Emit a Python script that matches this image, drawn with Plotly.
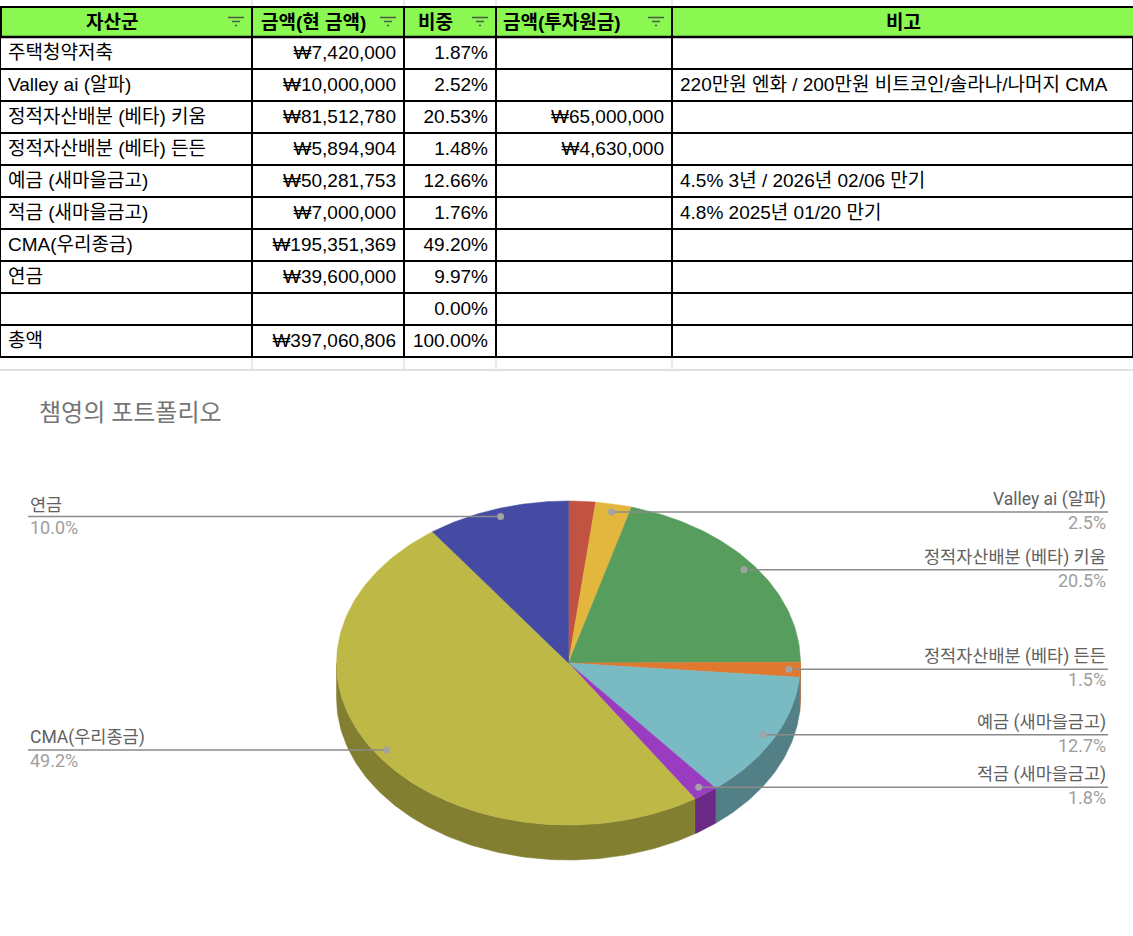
import math
import plotly.graph_objects as go

# ---------------- data ----------------
header_labels = ["자산군", "금액(현 금액)", "비중", "금액(투자원금)", "비고"]
categories = ["주택청약저축", "Valley ai (알파)", "정적자산배분 (베타) 키움", "정적자산배분 (베타) 든든",
              "예금 (새마을금고)", "적금 (새마을금고)", "CMA(우리종금)", "연금"]
current_amounts = [7420000, 10000000, 81512780, 5894904, 50281753, 7000000, 195351369, 39600000]
principal_amounts = [None, None, 65000000, 4630000, None, None, None, None]
notes = ["", "220만원 엔화 / 200만원 비트코인/솔라나/나머지 CMA", "", "",
         "4.5% 3년 / 2026년 02/06 만기", "4.8% 2025년 01/20 만기", "", ""]
total_label = "총액"
chart_title = "챔영의 포트폴리오"
unlabeled = ["주택청약저축"]
slice_colors = ["#C25241", "#E3B63E", "#569D5E", "#E07830", "#79BAC3", "#9A3CC0", "#BEB946", "#454BA3"]

# ---------------- layout constants ----------------
W, H = 1133, 936
col_widths = [252, 152, 92, 176, 461]
header_centers = [112, 313, 435, 562, 903]
table_top, header_h, row_h = 7, 30, 32
plotly_header_h = 36          # height of the (blank) table header row, covered by the drawn header
cx, cy, rx, ry, depth = 568.5, 663, 232, 162, 35
label_left_x, label_right_x = 28, 1108
TABLE_FONT = "Arial, 'Liberation Sans', 'Noto Sans CJK KR', sans-serif"
CHART_FONT = "Roboto, 'Noto Sans CJK KR', sans-serif"
CLEAR = "rgba(0,0,0,0)"

total = sum(current_amounts)

def won(v):
    return "" if v is None else "₩{:,}".format(v)

# table columns
col_names = categories + ["", total_label]
col_amount = [won(v) for v in current_amounts] + ["", won(total)]
col_share = ["{:.2f}%".format(v / total * 100) for v in current_amounts] + ["0.00%", "100.00%"]
col_principal = [won(v) for v in principal_amounts] + ["", ""]
col_notes = notes + ["", ""]
n_rows = len(col_names)

fig = go.Figure()

cells_top = table_top + header_h
table_bottom = cells_top + n_rows * row_h
dom_top = cells_top - plotly_header_h
fig.add_trace(go.Table(
    domain=dict(x=[0, 1], y=[1 - (table_bottom + 3) / H, 1 - dom_top / H]),
    columnwidth=col_widths,
    header=dict(
        values=[""] * len(header_labels),
        fill_color=CLEAR,
        line=dict(color=CLEAR, width=0),
        font=dict(family=TABLE_FONT, size=19, color=CLEAR),
        height=plotly_header_h,
    ),
    cells=dict(
        values=[col_names, col_amount, col_share, col_principal, col_notes],
        fill_color="white",
        line=dict(color="black", width=2),
        align=["left", "right", "right", "right", "left"],
        font=dict(family=TABLE_FONT, size=19, color="black"),
        height=row_h,
    ),
))

# ---------------- 3D-looking elliptical pie ----------------
def pt(theta_deg, r=1.0, dy=0.0):
    t = math.radians(theta_deg)
    return cx + r * rx * math.sin(t), cy - r * ry * math.cos(t) + dy

def darker(hexc, f=0.69):
    hexc = hexc.lstrip("#")
    r, g, b = (int(hexc[i:i + 2], 16) for i in (0, 2, 4))
    return "#%02X%02X%02X" % (int(r * f), int(g * f), int(b * f))

angles = []
acc = 0.0
for v in current_amounts:
    a0 = acc / total * 360
    acc += v
    a1 = acc / total * 360
    angles.append((a0, a1))

def arc(a0, a1, dy=0.0):
    n = max(2, int((a1 - a0) / 1.0) + 2)
    return [pt(a0 + (a1 - a0) * k / (n - 1), 1.0, dy) for k in range(n)]

# side faces (front half only)
for (a0, a1), col in zip(angles, slice_colors):
    s0, s1 = max(a0, 90), min(a1, 270)
    if s1 <= s0:
        continue
    top = arc(s0, s1)
    bot = arc(s0, s1, depth)[::-1]
    pts = top + bot + [top[0]]
    fig.add_trace(go.Scatter(x=[p[0] for p in pts], y=[p[1] for p in pts], mode="lines",
                             fill="toself", fillcolor=darker(col),
                             line=dict(color=darker(col), width=0.5),
                             hoverinfo="skip", showlegend=False))

# top faces
for (a0, a1), col in zip(angles, slice_colors):
    pts = [(cx, cy)] + arc(a0, a1) + [(cx, cy)]
    fig.add_trace(go.Scatter(x=[p[0] for p in pts], y=[p[1] for p in pts], mode="lines",
                             fill="toself", fillcolor=col,
                             line=dict(color=col, width=0.5),
                             hoverinfo="skip", showlegend=False))

# leader lines, dots and labels
annotations = []
for name, v, (a0, a1) in zip(categories, current_amounts, angles):
    if name in unlabeled:
        continue
    mid = (a0 + a1) / 2
    dx, dy_ = pt(mid, 0.95)
    right = math.sin(math.radians(mid)) > 0
    ex = label_right_x if right else label_left_x
    fig.add_trace(go.Scatter(x=[dx, ex], y=[dy_, dy_], mode="lines",
                             line=dict(color="#8A8A8A", width=1.5),
                             hoverinfo="skip", showlegend=False))
    fig.add_trace(go.Scatter(x=[dx], y=[dy_], mode="markers",
                             marker=dict(color="#A3A3A3", size=7),
                             hoverinfo="skip", showlegend=False))
    anchor = "right" if right else "left"
    annotations.append(dict(x=ex, y=dy_, xref="x", yref="y", text=name, showarrow=False,
                            xanchor=anchor, yanchor="bottom", yshift=0,
                            font=dict(family=CHART_FONT, size=17.5, color="#616161")))
    annotations.append(dict(x=ex, y=dy_, xref="x", yref="y", text="{:.1f}%".format(v / total * 100),
                            showarrow=False, xanchor=anchor, yanchor="top", yshift=2,
                            font=dict(family=CHART_FONT, size=18, color="#9E9E9E")))

annotations.append(dict(x=37, y=413, xref="x", yref="y", text=chart_title, showarrow=False,
                        xanchor="left", yanchor="middle",
                        font=dict(family=CHART_FONT, size=24, color="#757575")))

# header row (spreadsheet header with filter icons)
shapes = []
edges = []
acc = 0
for w in col_widths:
    acc += w
    edges.append(acc)
shapes.append(dict(type="rect", xref="x", yref="y", x0=0, x1=W, y0=table_top, y1=cells_top,
                   fillcolor="#8AF850", line=dict(width=0), layer="below"))
for lab, xc in zip(header_labels, header_centers):
    annotations.append(dict(x=xc, y=(table_top + cells_top) / 2, xref="x", yref="y",
                            text="<b>%s</b>" % lab, showarrow=False, xanchor="center",
                            yanchor="middle",
                            font=dict(family=TABLE_FONT, size=19, color="black")))
shapes.append(dict(type="line", xref="x", yref="y", x0=0, x1=W, y0=table_top, y1=table_top,
                   line=dict(color="black", width=2)))
shapes.append(dict(type="line", xref="x", yref="y", x0=0, x1=W, y0=cells_top, y1=cells_top,
                   line=dict(color="black", width=2.5)))
for R in [1] + edges[:4]:
    shapes.append(dict(type="line", xref="x", yref="y", x0=R, x1=R, y0=table_top, y1=cells_top,
                       line=dict(color="black", width=2)))
for R in edges[:4]:
    for (y, l, r) in [(17.5, 24, 8), (21.5, 20, 12), (25.5, 17, 15)]:
        shapes.append(dict(type="line", xref="x", yref="y", x0=R - l, x1=R - r, y0=y, y1=y,
                           line=dict(color="#4E5A48", width=1.5)))
# faint sheet gridlines above and below the table
shapes.append(dict(type="line", xref="x", yref="y", x0=0, x1=W, y0=370, y1=370,
                   line=dict(color="#D6D6D6", width=1.5)))
for R in edges[:4]:
    shapes.append(dict(type="line", xref="x", yref="y", x0=R, x1=R, y0=table_bottom + 1, y1=370,
                       line=dict(color="#E2E2E2", width=1.5)))
    shapes.append(dict(type="line", xref="x", yref="y", x0=R, x1=R, y0=0, y1=table_top - 1,
                       line=dict(color="#E2E2E2", width=1.5)))

fig.update_layout(
    width=W, height=H,
    margin=dict(l=0, r=0, t=0, b=0),
    paper_bgcolor="white", plot_bgcolor="white",
    xaxis=dict(range=[0, W], visible=False, fixedrange=True, domain=[0, 1]),
    yaxis=dict(range=[H, 0], visible=False, fixedrange=True, domain=[0, 1]),
    annotations=annotations,
    shapes=shapes,
    hovermode=False,
    showlegend=False,
)

fig.write_html("out.html")
